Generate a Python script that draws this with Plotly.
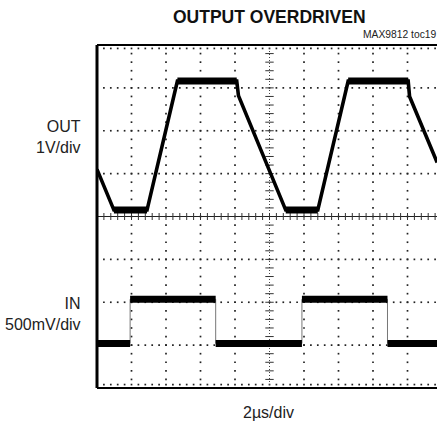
import numpy as np
import plotly.graph_objects as go

# Oscilloscope screen coordinates: x in divisions (2 µs/div), y in divisions (0 = screen centre)
# OUT trace (1 V/div)
OUT_t = [0.00, 0.49, 1.45, 2.33, 4.05, 4.10, 5.47, 6.40, 7.28, 9.02, 9.06, 9.86]
OUT_v = [1.10, 0.15, 0.15, 3.16, 3.16, 2.82, 0.15, 0.15, 3.16, 3.16, 2.80, 1.26]
# IN trace (500 mV/div)
IN_t = [0.00, 0.96, 0.96, 3.44, 3.44, 5.94, 5.94, 8.42, 8.42, 9.86]
IN_v = [-2.96, -2.96, -1.93, -1.93, -2.96, -2.96, -1.93, -1.93, -2.96, -2.96]

TITLE = "OUTPUT OVERDRIVEN"
TOC = "MAX9812 toc19"
OUT_LABEL = "OUT<br>1V/div"
IN_LABEL = "IN<br>500mV/div"
X_LABEL = "2µs/div"

X_MAX = 9.855   # visible part of the 10-division screen
Y_HALF = 4

LABEL_FONT = "Liberation Sans, Arial, sans-serif"


def plateaus(t, v):
    xs, ys = [], []
    for i in range(len(t) - 1):
        if v[i] == v[i + 1] and t[i + 1] > t[i]:
            xs += [t[i], t[i + 1], None]
            ys += [v[i], v[i + 1], None]
    return xs, ys


fig = go.Figure()

# ---- graticule dots ----
sub = 0.2
gx, gy = [], []
yy = np.round(np.arange(-Y_HALF, Y_HALF + 1e-9, sub), 3)
xx = np.round(np.arange(0, X_MAX + 1e-9, sub), 3)
for k in range(1, 10):
    if k == 5:
        continue
    gx += [k] * len(yy)
    gy += list(yy)
for j in range(-3, 4):
    if j == 0:
        continue
    gx += list(xx)
    gy += [j] * len(xx)
# dots along top/bottom borders
for yb in (Y_HALF - 0.08, -Y_HALF + 0.08):
    gx += list(xx)
    gy += [yb] * len(xx)
fig.add_trace(go.Scatter(x=gx, y=gy, mode="markers",
                         marker=dict(symbol="square", size=1.7, color="#222", line_width=0),
                         hoverinfo="skip"))

# centre vertical dotted line with ticks
fig.add_trace(go.Scatter(x=[5, 5], y=[-Y_HALF, Y_HALF], mode="lines",
                         line=dict(color="#444", width=1, dash="1px,2px"), hoverinfo="skip"))
fig.add_trace(go.Scatter(x=[5] * len(yy), y=list(yy), mode="markers",
                         marker=dict(symbol="line-ew", size=6, line=dict(color="#333", width=1)),
                         hoverinfo="skip"))
# centre horizontal solid line with ticks
fig.add_trace(go.Scatter(x=[0, X_MAX], y=[0, 0], mode="lines",
                         line=dict(color="#222", width=1), hoverinfo="skip"))
fig.add_trace(go.Scatter(x=list(xx), y=[0] * len(xx), mode="markers",
                         marker=dict(symbol="line-ns", size=5, line=dict(color="#333", width=1)),
                         hoverinfo="skip"))

# ---- IN trace ----
fig.add_trace(go.Scatter(x=IN_t, y=IN_v, mode="lines",
                         line=dict(color="#777", width=1), hoverinfo="skip"))
px_, py_ = plateaus(IN_t, IN_v)
fig.add_trace(go.Scatter(x=px_, y=py_, mode="lines",
                         line=dict(color="#000", width=7), hoverinfo="skip"))

# ---- OUT trace ----
fig.add_trace(go.Scatter(x=OUT_t, y=OUT_v, mode="lines",
                         line=dict(color="#000", width=3.6), hoverinfo="skip"))
px_, py_ = plateaus(OUT_t, OUT_v)
fig.add_trace(go.Scatter(x=px_, y=py_, mode="lines",
                         line=dict(color="#000", width=7), hoverinfo="skip"))

# ---- borders ----
shapes = [
    dict(type="line", xref="paper", yref="paper", x0=0, x1=0, y0=0, y1=1, line=dict(color="#000", width=3)),
    dict(type="line", xref="paper", yref="paper", x0=0, x1=1, y0=1, y1=1, line=dict(color="#000", width=2)),
    dict(type="line", xref="paper", yref="paper", x0=0, x1=1, y0=0, y1=0, line=dict(color="#000", width=2)),
]

annotations = [
    dict(text=TITLE, xref="paper", yref="paper", x=0.506, y=1, yshift=28, xanchor="center", yanchor="middle",
         showarrow=False, font=dict(family="Liberation Sans, Arial, sans-serif", size=17.5, color="#111", weight="bold")),
    dict(text=TOC, xref="paper", yref="paper", x=(361 - 97) / 340, y=1, yshift=11, xanchor="left", yanchor="middle",
         showarrow=False, font=dict(family=LABEL_FONT, size=10.3, color="#222")),
    dict(text=OUT_LABEL, xref="paper", yref="paper", x=(83 - 97) / 340, y=(388 - 137) / 343,
         xanchor="right", yanchor="middle", align="right", showarrow=False,
         font=dict(family=LABEL_FONT, size=16, color="#222")),
    dict(text=IN_LABEL, xref="paper", yref="paper", x=(83 - 97) / 340, y=(388 - 314) / 343,
         xanchor="right", yanchor="middle", align="right", showarrow=False,
         font=dict(family=LABEL_FONT, size=16, color="#222")),
    dict(text=X_LABEL, xref="paper", yref="paper", x=(268 - 97) / 340, y=0, yshift=-24,
         xanchor="center", yanchor="middle", showarrow=False,
         font=dict(family=LABEL_FONT, size=16, color="#222")),
]

fig.update_layout(
    width=437, height=423,
    margin=dict(l=97, r=0, t=45, b=35),
    paper_bgcolor="white", plot_bgcolor="white",
    showlegend=False,
    xaxis=dict(range=[0, X_MAX], visible=False, fixedrange=True),
    yaxis=dict(range=[-Y_HALF, Y_HALF], visible=False, fixedrange=True),
    shapes=shapes,
    annotations=annotations,
)

fig.write_html("out.html", config={"displayModeBar": False},
               post_script="document.body.style.margin='0';document.body.style.overflow='hidden';")
